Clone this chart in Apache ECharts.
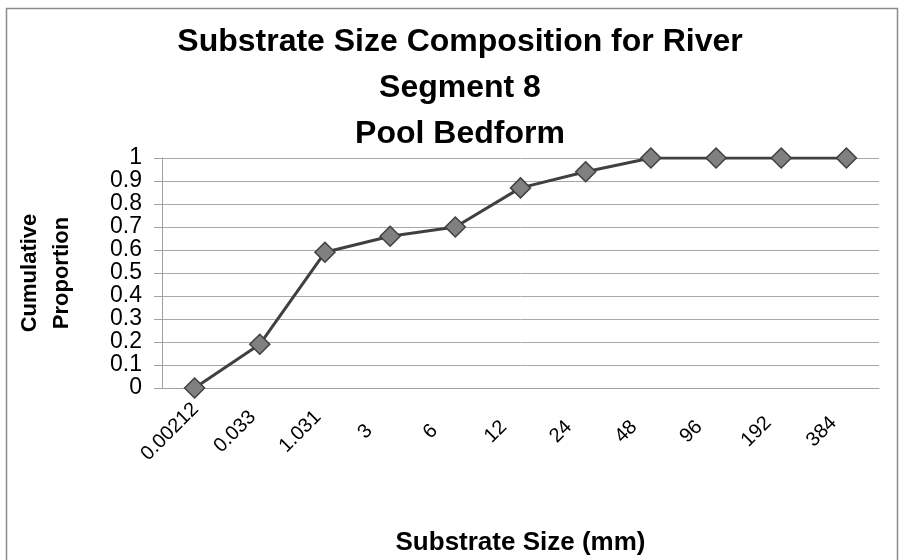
<!DOCTYPE html>
<html>
<head>
<meta charset="utf-8">
<script src="https://cdn.jsdelivr.net/npm/echarts@6/dist/echarts.min.js"></script>
<style>
  body { margin: 0; background: #fff; }
</style>
</head>
<body>
<div id="chart" style="width: 904px; height: 560px;"></div>
<script>
// substrate size classes (mm) and cumulative proportion
const sizes = ["0.00212", "0.033", "1.031", "3", "6", "12", "24", "48", "96", "192", "384"];
const cumulative = [0, 0.19, 0.59, 0.66, 0.70, 0.87, 0.94, 1, 1, 1, 1];

const chart = echarts.init(document.getElementById("chart"));

const font = "Liberation Sans, Arial, sans-serif";

const option = {
  backgroundColor: "#fff",
  animation: false,
  title: {
    text: "Substrate Size Composition for River\nSegment 8\nPool Bedform",
    left: 455,
    textAlign: "center",
    top: 14,
    textStyle: {
      fontFamily: font,
      fontSize: 32,
      fontWeight: "bold",
      color: "#000",
      lineHeight: 46,
    },
  },
  graphic: [
    {
      // outer chart border
      type: "rect",
      shape: { x: 6.5, y: 8.5, width: 891, height: 560 },
      style: { fill: "none", stroke: "#8c8c8c", lineWidth: 1.5 },
      silent: true,
    },
  ],
  grid: {
    left: 162,
    right: 25,
    top: 158,
    bottom: 172,
    containLabel: false,
  },
  xAxis: {
    type: "category",
    data: sizes,
    boundaryGap: true,
    name: "Substrate Size (mm)",
    nameLocation: "middle",
    nameGap: 142,
    nameTextStyle: {
      fontFamily: font,
      fontSize: 26,
      fontWeight: "bold",
      color: "#000",
    },
    axisLine: { show: true, lineStyle: { color: "#a0a0a0", width: 1 } },
    axisTick: { show: false },
    axisLabel: {
      rotate: 45,
      fontFamily: font,
      fontSize: 20,
      color: "#000",
      margin: 19,
      align: "center",
      verticalAlign: "middle",
      padding: [0, 70, 0, 0],
      interval: 0,
    },
    splitLine: { show: false },
  },
  yAxis: {
    type: "value",
    min: 0,
    max: 1,
    interval: 0.1,
    name: "Cumulative\nProportion",
    nameLocation: "middle",
    nameGap: 84,
    nameRotate: 90,
    nameTextStyle: {
      fontFamily: font,
      fontSize: 22,
      fontWeight: "bold",
      color: "#000",
      lineHeight: 32,
    },
    axisLine: { show: true, lineStyle: { color: "#a0a0a0", width: 1 } },
    axisTick: { show: true, inside: false, length: 8, lineStyle: { color: "#a0a0a0" } },
    axisLabel: {
      fontFamily: font,
      fontSize: 23,
      lineHeight: 20,
      color: "#000",
      margin: 20,
      showMinLabel: true,
      showMaxLabel: true,
      hideOverlap: false,
      formatter: (v) => String(Math.round(v * 10) / 10),
    },
    splitLine: { show: true, lineStyle: { color: "#a8a8a8", width: 1 } },
  },
  series: [
    {
      type: "line",
      data: cumulative,
      symbol: "diamond",
      symbolSize: 20,
      lineStyle: { color: "#404040", width: 3 },
      itemStyle: { color: "#808080", borderColor: "#404040", borderWidth: 1.5 },
    },
  ],
};

chart.setOption(option);
</script>
</body>
</html>
